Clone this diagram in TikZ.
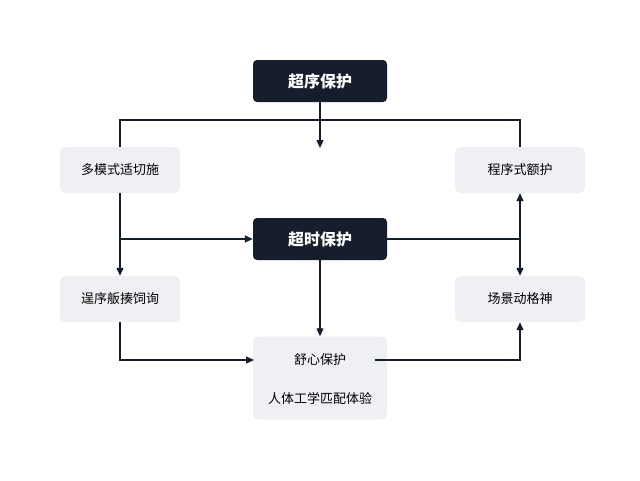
\documentclass[tikz,border=0pt]{standalone}
\usepackage{fontspec}
\newfontfamily\cjk{Noto Sans CJK SC}
\usetikzlibrary{arrows.meta}
\definecolor{navy}{HTML}{161D2B}
\definecolor{pale}{HTML}{EEF0F3}
\begin{document}
\begin{tikzpicture}[x=1pt,y=-1pt,
 dark/.style={fill=navy,rounded corners=4pt,minimum width=134pt,minimum height=42pt,text=white,font=\cjk\bfseries\fontsize{16}{16}\selectfont},
 light/.style={fill=pale,rounded corners=6pt,minimum width=120pt,minimum height=46pt,font=\cjk\fontsize{13}{13}\selectfont},
 ln/.style={draw=navy,line width=1.2pt},
 ar/.style={ln,-{Triangle[length=8pt,width=7pt]}}]
\useasboundingbox (0,0) rectangle (640,480);
\fill[white] (0,0) rectangle (640,480);
\node[dark] (top) at (320,81) {超序保护};
\node[dark] (mid) at (320,239) {超时保护};
\node[light] (l1) at (120,170) {多模式适切施};
\node[light] (l2) at (120,299) {逞序舨揍饲询};
\node[light,minimum width=130pt] (r1) at (520,170) {程序式额护};
\node[light,minimum width=130pt] (r2) at (520,299) {场景动格神};
\node[light,minimum width=134pt,minimum height=83pt] (b) at (320,378) {};
\node[font=\cjk\fontsize{13}{13}\selectfont] (b1) at (320,360) {舒心保护};
\node[font=\cjk\fontsize{13}{13}\selectfont] (b2) at (320,398) {人体工学匹配体验};
\coordinate (hl) at (120,120); \coordinate (hr) at (520,120);
\coordinate (jl) at (120,239); \coordinate (jr) at (520,239);
\coordinate (bl) at (120,360); \coordinate (br) at (520,360);
\coordinate (bi) at (254,360); \coordinate (bo) at (375,360);
\draw[ln] (l1.north) -- (hl) -- (hr) -- (r1.north);
\draw[ar] (top.south) -- (320,148);
\draw[ar] (l1.south) -- (l2.north);
\draw[ar] (jl) -- (mid.west);
\draw[ln] (mid.east) -- (jr);
\draw[ar] (jr) -- (r1.south);
\draw[ar] (jr) -- (r2.north);
\draw[ar] (mid.south) -- (b.north);
\draw[ar] (l2.south) -- (bl) -- (bi);
\draw[ar] (bo) -- (br) -- (r2.south);
\end{tikzpicture}
\end{document}
